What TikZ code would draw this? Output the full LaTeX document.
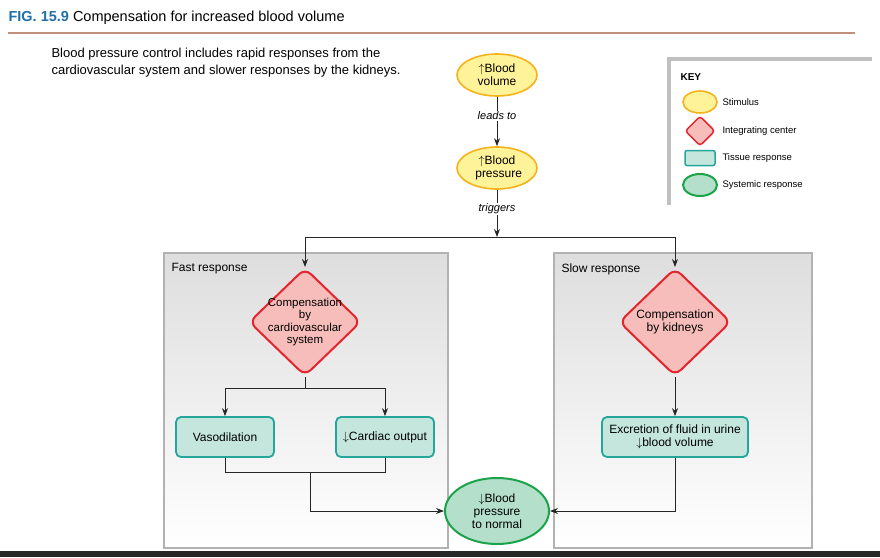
\documentclass[tikz,border=0pt]{standalone}
\usepackage{fontspec}
\setmainfont{Liberation Sans}
\usetikzlibrary{shapes.geometric,arrows.meta,positioning}
\definecolor{stimfill}{HTML}{FFF39A}
\definecolor{stimdraw}{HTML}{F5B21B}
\definecolor{intfill}{HTML}{F7BDBA}
\definecolor{intdraw}{HTML}{E3262E}
\definecolor{tisfill}{HTML}{C4E6DC}
\definecolor{tisdraw}{HTML}{26A69A}
\definecolor{sysfill}{HTML}{B3DFCB}
\definecolor{sysdraw}{HTML}{1BA34A}
\definecolor{figblue}{HTML}{1F6FA8}
\definecolor{rulebrown}{HTML}{C0907A}
\begin{document}
\begin{tikzpicture}[
        x=1pt, y=-1pt,
        font=\fontsize{12}{13}\selectfont,
        >={Stealth[length=8pt,width=6pt]}
    ]
    \tikzset{
        stim/.style = {ellipse, draw=stimdraw, fill=stimfill, line width=1.6pt, align=center, inner sep=0pt},
        integ/.style = {diamond, draw=intdraw, fill=intfill, line width=2pt, rounded corners=8pt, align=center, inner sep=-8pt},
        tissue/.style = {rectangle, draw=tisdraw, fill=tisfill, line width=1.8pt, rounded corners=5pt, align=center},
        system/.style = {ellipse, draw=sysdraw, fill=sysfill, line width=2pt, align=center, inner sep=0pt},
        panel/.style = {draw=black!30, line width=1.5pt, top color=black!13, bottom color=white},
        flow/.style = {->, black!85, line width=0.8pt},
        plain/.style = {black!85, line width=0.8pt},
        keytext/.style = {anchor=west, font=\fontsize{9.5}{11}\selectfont},
    }
    \useasboundingbox (0,0) rectangle (880,557);
    % title
    \node[anchor=west, font=\fontsize{14.5}{16}\selectfont] (title) at (5,18) {\textcolor{figblue}{\textbf{FIG. 15.9}}\ Compensation for increased blood volume};
    \draw[rulebrown, line width=1.5pt] (8,33) -- (855,33);
    \node[anchor=north west, align=left, font=\fontsize{13}{17}\selectfont] (intro) at (48,45)
        {Blood pressure control includes rapid responses from the\\cardiovascular system and slower responses by the kidneys.};
    % panels
    \draw[panel] (164,253) rectangle (448,548);
    \draw[panel] (554,253) rectangle (812,548);
    \node[anchor=west] (fast) at (168,269) {Fast response};
    \node[anchor=west] (slow) at (558,269) {Slow response};
    % key
    \fill[black!25] (667,57) rectangle (872,61);
    \fill[black!25] (667,57) rectangle (671,205);
    \node[anchor=west, font=\fontsize{10}{11}\selectfont\bfseries] (key) at (677,77) {KEY};
    \node[stim, minimum width=34, minimum height=22] (kstim) at (700,102) {};
    \node[integ, minimum width=30, minimum height=30, rounded corners=3pt, line width=1.5pt] (kint) at (700,131) {};
    \node[tissue, minimum width=30, minimum height=15, rounded corners=2pt, line width=1.5pt] (ktis) at (700,158) {};
    \node[system, minimum width=34, minimum height=22] (ksys) at (700,185) {};
    \node[keytext] at (719,102) {Stimulus};
    \node[keytext] at (719,131) {Integrating center};
    \node[keytext] at (719,158) {Tissue response};
    \node[keytext] at (719,185) {Systemic response};
    % top chain
    \node[stim, minimum width=80, minimum height=42] (vol) at (497,75) {$\uparrow$Blood\\volume};
    \node[stim, minimum width=80, minimum height=42] (bp) at (497,168) {$\uparrow$Blood\\\ pressure};
    \node[fill=white, inner sep=1pt, font=\fontsize{11}{12}\selectfont\itshape] (leads) at (497,116) {leads to};
    \node[fill=white, inner sep=1pt, font=\fontsize{11}{12}\selectfont\itshape] (trig) at (497,209) {triggers};
    \coordinate (split) at (497,237);
    \draw[plain] (vol) -- (leads);
    \draw[flow] (leads) -- (bp);
    \draw[plain] (bp) -- (trig);
    \draw[flow] (trig) -- (split);
    % integrating centers
    \node[integ, minimum width=112, minimum height=108, font=\fontsize{11.5}{12.5}\selectfont] (cv) at (305,322) {Compensation\\by\\cardiovascular\\system};
    \node[integ, minimum width=112, minimum height=108] (kid) at (675,322) {Compensation\\by kidneys};
    \draw[flow] (split) -| (cv.north);
    \draw[flow] (split) -| (kid.north);
    % tissue responses
    \node[tissue, minimum width=98, minimum height=40] (vaso) at (225,437) {Vasodilation};
    \node[tissue, minimum width=98, minimum height=40] (card) at (385,437) {$\downarrow$Cardiac output};
    \node[tissue, minimum width=146, minimum height=40, inner sep=2pt] (excr) at (675,437) {Excretion of fluid in urine\\$\downarrow$blood volume};
    \coordinate (cvsplit) at (305,388);
    \draw[plain] (cv.south) -- (cvsplit);
    \draw[flow] (cvsplit) -| (vaso.north);
    \draw[flow] (cvsplit) -| (card.north);
    \draw[flow] (kid.south) -- (excr.north);
    % systemic response
    \node[system, minimum width=104, minimum height=66] (norm) at (497,511) {$\downarrow$Blood\\pressure\\to normal};
    \coordinate (join) at (310,472);
    \draw[plain] (vaso.south) |- (join);
    \draw[plain] (card.south) |- (join);
    \draw[flow] (join) |- (norm.west);
    \draw[flow] (excr.south) |- (norm.east);
    % bottom rule
    \fill[black!85] (0,551) rectangle (880,557);
\end{tikzpicture}
\end{document}
